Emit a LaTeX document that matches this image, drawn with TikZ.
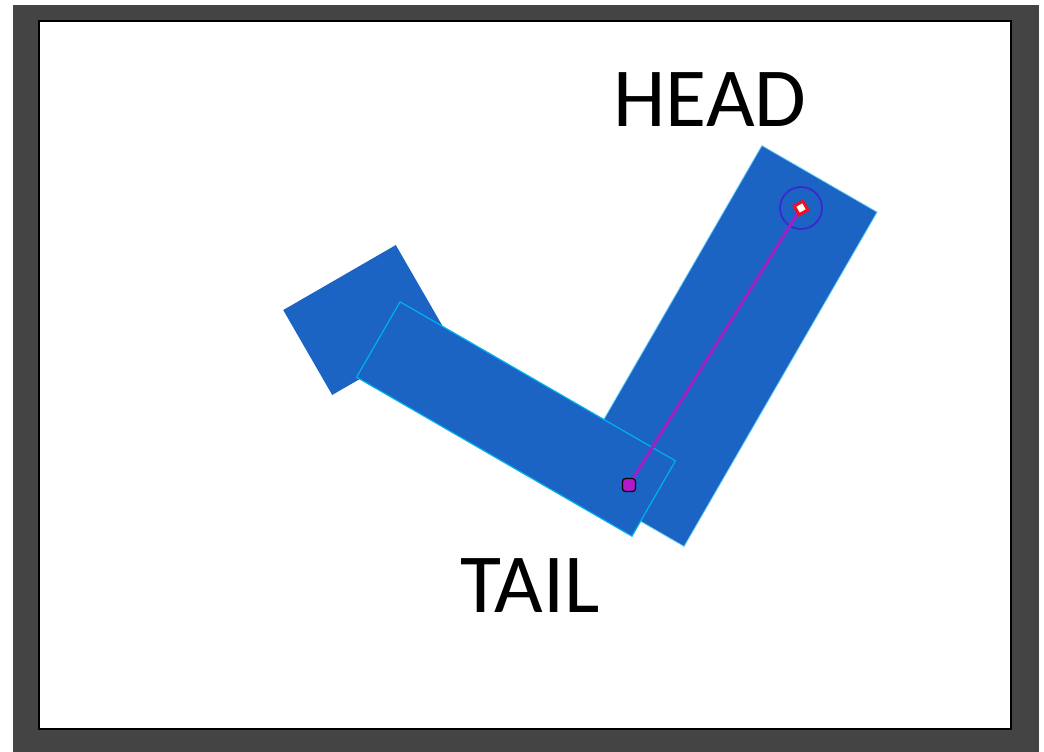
\documentclass[tikz,border=0pt]{standalone}
\usepackage{fontspec}
\setmainfont{Carlito}
\usetikzlibrary{positioning}
\definecolor{frameGray}{HTML}{444444}
\definecolor{armBlue}{HTML}{1B64C4}
\definecolor{armEdge}{HTML}{00B0F0}
\definecolor{boneLine}{HTML}{A020C8}
\definecolor{ringBlue}{HTML}{3C28CC}
\definecolor{tipRed}{HTML}{EE1020}
\definecolor{tailPink}{HTML}{B418C8}

\begin{document}
\begin{tikzpicture}[
  x=1pt, y=-1pt,
  arm/.style={fill=armBlue, inner sep=0pt, outer sep=0pt},
  armline/.style={arm, draw=armEdge, line width=1.2pt},
  label/.style={font=\fontsize{84}{84}\selectfont, inner sep=0pt},
  bone/.style={draw=boneLine, line width=3pt},
]
  % page and frame
  \fill[white] (0,0) rectangle (1044,752);
  \fill[frameGray] (13,5) rectangle (1039,752);
  \draw[black, line width=1.5pt, fill=white] (39,21) rectangle (1011,729);

  % the three blocks, back to front
  \node[arm, minimum width=130pt, minimum height=98pt, rotate=30] (back) at (364,320) {};
  \node[armline, draw=armEdge!60, line width=0.8pt, minimum width=386pt,
        minimum height=133pt, rotate=60] (upper) at (723,346) {};
  \node[armline, minimum width=318pt, minimum height=87pt, rotate=-30] (lower) at (516,419) {};

  % markers
  \node[draw=ringBlue, line width=1.8pt, circle, minimum size=42pt, inner sep=0pt] (ring) at (801,208) {};
  \node[draw=black, line width=1.2pt, fill=tailPink, rounded corners=3pt,
        minimum size=13pt, inner sep=0pt] (tail) at (629,485) {};
  \draw[bone] (tail) -- (ring.center);
  \node[draw=tipRed, line width=3pt, fill=white, minimum size=10pt,
        inner sep=0pt, rotate=30] (head) at (801,208) {};

  % labels
  \node[label] (headtxt) at (710,100) {HEAD};
  \node[label] (tailtxt) at (530,586) {TAIL};
\end{tikzpicture}
\end{document}
